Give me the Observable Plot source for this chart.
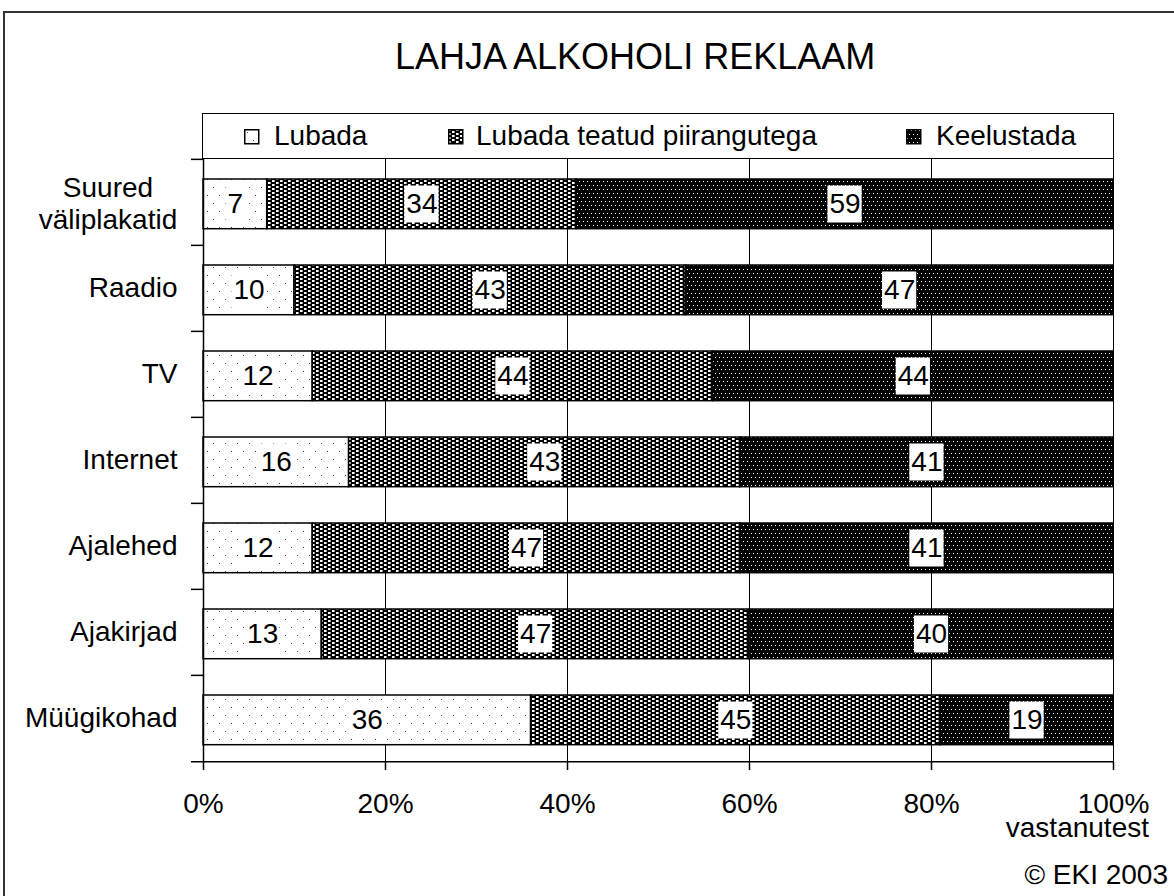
<!DOCTYPE html>
<html><head><meta charset="utf-8">
<script src="https://cdn.jsdelivr.net/npm/d3@7"></script>
<script src="https://cdn.jsdelivr.net/npm/@observablehq/plot@0.6"></script>
<style>
html,body{margin:0;padding:0;background:#fff;}
#wrap{position:relative;width:1174px;height:896px;overflow:hidden;font-family:"Liberation Sans",Arial,sans-serif;color:#000;background:#fff;}
#chart{position:absolute;left:0;top:0;}
.t{position:absolute;white-space:nowrap;line-height:1;font-size:28px;}
#border{position:absolute;left:3px;top:11px;width:1300px;height:1000px;border:2px solid #333;box-sizing:border-box;pointer-events:none;}
#legend{position:absolute;left:202px;top:113px;width:912px;height:46px;border:1.5px solid #000;box-sizing:border-box;background:#fff;}
.sw{position:absolute;}
</style></head><body>
<svg width="0" height="0" style="position:absolute">
<defs>
<pattern id="pLubada" width="12" height="16" patternUnits="userSpaceOnUse">
<rect width="12" height="16" fill="#fff"/>
<rect x="3" y="3" width="1" height="1" fill="#444"/>
<rect x="9" y="11" width="1" height="1" fill="#444"/>
</pattern>
<pattern id="pPiirang" width="8" height="4" patternUnits="userSpaceOnUse">
<rect width="8" height="4" fill="#000"/>
<rect x="0" y="0" width="2" height="2" fill="#fff"/>
<rect x="4" y="2" width="2" height="2" fill="#fff"/>
<rect x="2" y="0" width="1" height="2" fill="#999"/>
<rect x="6" y="2" width="1" height="2" fill="#999"/>
</pattern>
<pattern id="pKeelust" width="4" height="8" patternUnits="userSpaceOnUse">
<rect width="4" height="8" fill="#000"/>
<rect x="1" y="1" width="1" height="1" fill="#fff"/>
<rect x="3" y="5" width="1" height="1" fill="#fff"/>
</pattern>
</defs></svg>
<div id="wrap">
  <div id="chart"></div>
  <div id="legend"></div>
  <div id="border"></div>
</div>
<script>
// ---- data ----
const title = "LAHJA ALKOHOLI REKLAAM";
const categories = ["Suured väliplakatid","Raadio","TV","Internet","Ajalehed","Ajakirjad","Müügikohad"];
const series = ["Lubada","Lubada teatud piirangutega","Keelustada"];
const lubada = [7,10,12,16,12,13,36];
const piirangutega = [34,43,44,43,47,47,45];
const keelustada = [59,47,44,41,41,40,19];
const xTicks = [0,20,40,60,80,100];
const gridTicks = [20,40,60,80,100];
const axisNote = "vastanutest";
const credit = "© EKI 2003";
const patterns = ["url(#pLubada)","url(#pPiirang)","url(#pKeelust)"];

// ---- layout ----
const W = 1174, H = 896;
const mL = 203, mR = 61, mT = 158, mB = 134;
const pxU = 100 / (W - mL - mR);
const bw = (H - mT - mB) / categories.length;

const seriesValues = [lubada, piirangutega, keelustada];
const rows = [], boxes = [];
categories.forEach((c, i) => {
  let acc = 0;
  seriesValues.forEach((arr, j) => {
    const v = arr[i];
    rows.push({category: c, series: series[j], x1: acc, x2: acc + v});
    const mid = acc + v / 2;
    const hw = (String(v).length * 7.8 + 1.5) * pxU;
    boxes.push({category: c, mid, b1: mid - hw, b2: mid + hw, label: String(v)});
    acc += v;
  });
});

const font = '"Liberation Sans", Arial, sans-serif';
const chart = Plot.plot({
  width: W, height: H,
  marginLeft: mL, marginRight: mR, marginTop: mT, marginBottom: mB,
  style: {fontFamily: font, fontSize: "28px", color: "#000", background: "transparent"},
  x: {domain: [0, 100]},
  y: {domain: categories, padding: 0},
  color: {domain: series, range: patterns},
  marks: [
    Plot.ruleX(gridTicks, {stroke: "#000", strokeWidth: 1}),
    Plot.barX(rows, {x1: "x1", x2: "x2", y: "category", fill: "series", stroke: "#000", strokeWidth: 1.5, insetTop: 20, insetBottom: 16.3}),
    Plot.barX(boxes, {x1: "b1", x2: "b2", y: "category", fill: "#fff", insetTop: 26.5, insetBottom: 22.5}),
    Plot.text(boxes, {x: "mid", y: "category", text: "label", fontSize: 28, dy: 2, fill: "#000"}),
    Plot.ruleX([0], {stroke: "#000", strokeWidth: 1.5}),
    Plot.ruleY(categories, {y: d => d, x1: -12 * pxU, x2: 0, dy: -bw / 2, stroke: "#000", strokeWidth: 1.5}),
    Plot.ruleY([categories[categories.length - 1]], {y: d => d, x1: -12 * pxU, x2: 100, dy: bw / 2, stroke: "#000", strokeWidth: 1.5}),
    Plot.axisX({ticks: xTicks, tickFormat: d => d + "%", tickSize: 8, tickPadding: 23, fontSize: 28, label: null, stroke: "#000", strokeWidth: 1.5}),
    Plot.axisY({tickSize: 0, tickPadding: 26, fontSize: 28, label: null, tickFormat: d => d === categories[0] ? "" : d}),
    Plot.text([categories[0]], {y: d => d, x: 0, text: d => d.replace(" ", "\n"), textAnchor: "middle", dx: -95.5, lineHeight: 1.14, fontSize: 28, fill: "#000"})
  ]
});
document.getElementById("chart").appendChild(chart);

// ---- overlays: title, legend, notes ----
const wrap = document.getElementById("wrap");
function addText(txt, left, right, baseline, size) {
  const d = document.createElement("div");
  d.className = "t";
  d.textContent = txt;
  d.style.fontSize = size + "px";
  d.style.top = (baseline - 0.8465 * size) + "px";
  if (left != null) d.style.left = left + "px";
  if (right != null) d.style.right = right + "px";
  wrap.appendChild(d);
  return d;
}
addText(title, 395, null, 69, 36);
addText(axisNote, null, 1174 - 1149, 838, 28);
addText(credit, null, 1174 - 1168, 885, 28);

const legend = document.getElementById("legend");
const swX = [243, 447, 905];
const txX = [273, 475, 935];
series.forEach((s, i) => {
  const sw = document.createElementNS("http://www.w3.org/2000/svg", "svg");
  sw.setAttribute("width", 16); sw.setAttribute("height", 16);
  sw.setAttribute("class", "sw");
  sw.style.left = (swX[i] - 202) + "px";
  sw.style.top = (128 - 113) + "px";
  sw.innerHTML = `<rect x="0.75" y="0.75" width="14" height="14" fill="${patterns[i]}" stroke="#000" stroke-width="1.5"/>`;
  legend.appendChild(sw);
  const d = document.createElement("div");
  d.className = "t";
  d.textContent = s;
  d.style.left = (txX[i] - 202) + "px";
  d.style.top = (145 - 113 - 0.8465 * 28) + "px";
  legend.appendChild(d);
});
</script>
</body></html>
